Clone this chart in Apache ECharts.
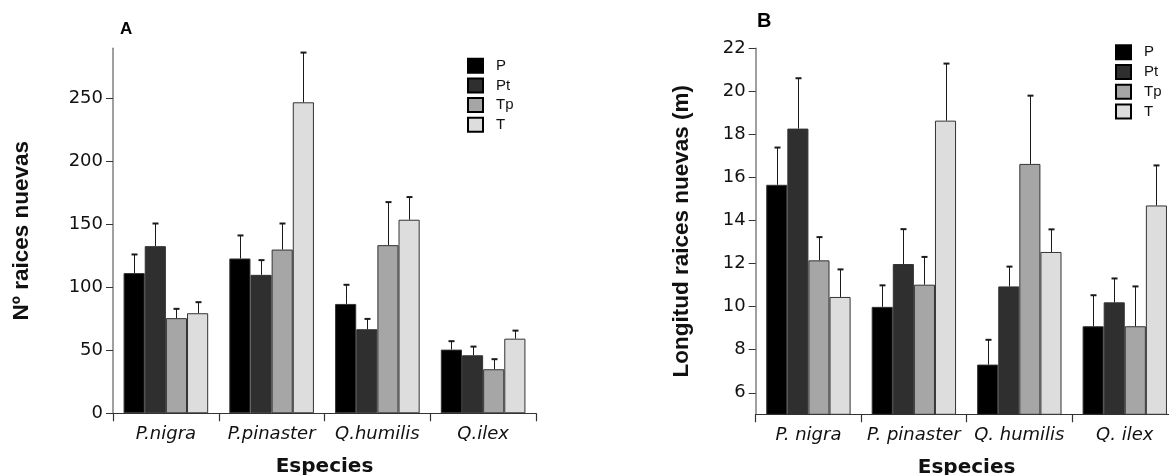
<!DOCTYPE html>
<html>
<head>
<meta charset="utf-8">
<script src="https://cdn.jsdelivr.net/npm/echarts@6/dist/echarts.min.js"></script>
<style>
  html, body { margin: 0; padding: 0; background: #ffffff; overflow: hidden; }
  #chart { width: 1169px; height: 475px; }
</style>
</head>
<body>
<div id="chart"></div>
<script>
// Species (x categories) for both panels
const speciesA = ['P.nigra', 'P.pinaster', 'Q.humilis', 'Q.ilex'];
const speciesB = ['P. nigra', 'P. pinaster', 'Q. humilis', 'Q. ilex'];
const treatments = ['P', 'Pt', 'Tp', 'T'];

// Panel A: number of new roots (mean) and standard error, per treatment
const countP  = [111.4, 123.0, 86.9, 50.6];
const countPt = [132.8, 110.0, 66.8, 46.1];
const countTp = [75.6, 130.1, 133.6, 35.0];
const countT  = [79.5, 247.1, 153.8, 59.3];
const countErrP  = [14.8, 18.3, 15.2, 6.7];
const countErrPt = [18.0, 11.7, 8.2, 6.9];
const countErrTp = [7.4, 20.7, 34.2, 8.0];
const countErrT  = [8.8, 39.5, 18.0, 6.4];

// Panel B: length of new roots (m) and standard error, per treatment
const lengthP  = [15.66, 9.99, 7.31, 9.09];
const lengthPt = [18.27, 11.98, 10.94, 10.20];
const lengthTp = [12.15, 11.02, 16.63, 9.09];
const lengthT  = [10.45, 18.64, 12.54, 14.70];
const lengthErrP  = [1.73, 1.00, 1.15, 1.44];
const lengthErrPt = [2.34, 1.62, 0.92, 1.11];
const lengthErrTp = [1.08, 1.29, 3.17, 1.85];
const lengthErrT  = [1.28, 2.65, 1.05, 1.86];

// Tick labels
const ticksA = [0, 50, 100, 150, 200, 250];
const ticksB = [6, 8, 10, 12, 14, 16, 18, 20, 22];

// Styling
const fills = ['#000000', '#2f2f2f', '#a6a6a6', '#dddddd'];
const SANS = 'DejaVu Sans';
const ARIAL = 'Liberation Sans';
const CAT_GAP = 0.2; // barCategoryGap as a fraction

const meansA = [countP, countPt, countTp, countT];
const errsA = [countErrP, countErrPt, countErrTp, countErrT];
const meansB = [lengthP, lengthPt, lengthTp, lengthT];
const errsB = [lengthErrP, lengthErrPt, lengthErrTp, lengthErrT];

function barSeries(idx, means) {
  return treatments.map((name, i) => ({
    name: name,
    type: 'bar',
    xAxisIndex: idx,
    yAxisIndex: idx,
    data: means[i],
    barGap: '0%',
    barCategoryGap: (CAT_GAP * 100) + '%',
    itemStyle: { color: fills[i], borderColor: '#333333', borderWidth: 1 },
    emphasis: { disabled: true },
    z: 2
  }));
}

// Upper error whiskers, placed over each bar of the group
function errorSeries(idx, means, errs) {
  const data = [];
  means.forEach((vals, s) => {
    vals.forEach((v, c) => data.push([c, v, v + errs[s][c], s]));
  });
  return {
    type: 'custom',
    xAxisIndex: idx,
    yAxisIndex: idx,
    z: 5,
    silent: true,
    data: data,
    renderItem: function (params, api) {
      const c = api.value(0), v = api.value(1), top = api.value(2), s = api.value(3);
      const p0 = api.coord([c, v]);
      const p1 = api.coord([c, top]);
      const band = api.size([1, 0])[0];
      const bw = band * (1 - CAT_GAP) / treatments.length;
      const x = Math.round(p0[0] - band * (1 - CAT_GAP) / 2 + bw * (s + 0.5)) + 0.5;
      return {
        type: 'group',
        children: [
          { type: 'line', shape: { x1: x, y1: p0[1], x2: x, y2: p1[1] },
            style: { stroke: '#1a1a1a', lineWidth: 1 } },
          { type: 'line', shape: { x1: x - 3, y1: p1[1], x2: x + 3, y2: p1[1] },
            style: { stroke: '#1a1a1a', lineWidth: 2 } }
        ]
      };
    }
  };
}

function legendFor(left, top) {
  return {
    orient: 'vertical',
    left: left,
    top: top,
    padding: 0,
    itemWidth: 15,
    itemHeight: 14,
    itemGap: 3.7,
    icon: 'rect',
    selectedMode: false,
    itemStyle: { borderColor: '#000000', borderWidth: 2 },
    textStyle: { fontFamily: ARIAL, fontSize: 15, color: '#111111', lineHeight: 14, padding: [0, 0, 2, 8] },
    data: treatments
  };
}

function xAxisFor(idx, cats) {
  return {
    type: 'category',
    gridIndex: idx,
    data: cats,
    name: 'Especies',
    nameLocation: 'middle',
    nameGap: 43,
    nameTextStyle: { fontFamily: SANS, fontWeight: 'bold', fontSize: 20, color: '#111111' },
    axisLine: { onZero: false, lineStyle: { color: '#333333', width: 1.2 } },
    axisTick: { show: true, interval: 0, length: 8, lineStyle: { color: '#333333', width: 1.2 } },
    axisLabel: { interval: 0, margin: 12, fontFamily: SANS, fontStyle: 'italic', fontSize: 18, color: '#111111' }
  };
}

function yAxisFor(idx, min, max, ticks, title, gap) {
  return {
    type: 'value',
    gridIndex: idx,
    min: min,
    max: max,
    name: title,
    nameLocation: 'middle',
    nameGap: gap,
    nameTextStyle: { fontFamily: ARIAL, fontWeight: 'bold', fontSize: 22.5, color: '#111111' },
    splitLine: { show: false },
    axisLine: { show: true, lineStyle: { color: '#808080', width: 1.5 } },
    axisTick: { show: true, length: 7, customValues: ticks, lineStyle: { color: '#333333', width: 1 } },
    axisLabel: { margin: 10, customValues: ticks, fontFamily: SANS, fontSize: 18, color: '#111111' }
  };
}

const chart = echarts.init(document.getElementById('chart'), null, { renderer: 'canvas' });

chart.setOption({
  backgroundColor: '#ffffff',
  animation: false,
  title: [
    { text: 'A', left: 120, top: 21, padding: 0,
      textStyle: { fontFamily: ARIAL, fontWeight: 'bold', fontSize: 17, color: '#000000' } },
    { text: 'B', left: 757, top: 11, padding: 0,
      textStyle: { fontFamily: ARIAL, fontWeight: 'bold', fontSize: 20, color: '#000000' } }
  ],
  legend: [legendFor(467, 57.7), legendFor(1115, 44.3)],
  // panel B runs past the right edge, so grids are not fitted inside the canvas
  grid: [
    { left: 113, top: 48.3, width: 423, height: 365, outerBoundsMode: 'none' },
    { left: 755.7, top: 48.3, width: 421.8, height: 366, outerBoundsMode: 'none' }
  ],
  xAxis: [xAxisFor(0, speciesA), xAxisFor(1, speciesB)],
  yAxis: [
    yAxisFor(0, 0, 290, ticksA, 'Nº raices nuevas', 80),
    yAxisFor(1, 5, 22, ticksB, 'Longitud raices nuevas (m)', 62)
  ],
  series: [].concat(
    barSeries(0, meansA),
    barSeries(1, meansB),
    [errorSeries(0, meansA, errsA), errorSeries(1, meansB, errsB)]
  )
});
</script>
</body>
</html>
